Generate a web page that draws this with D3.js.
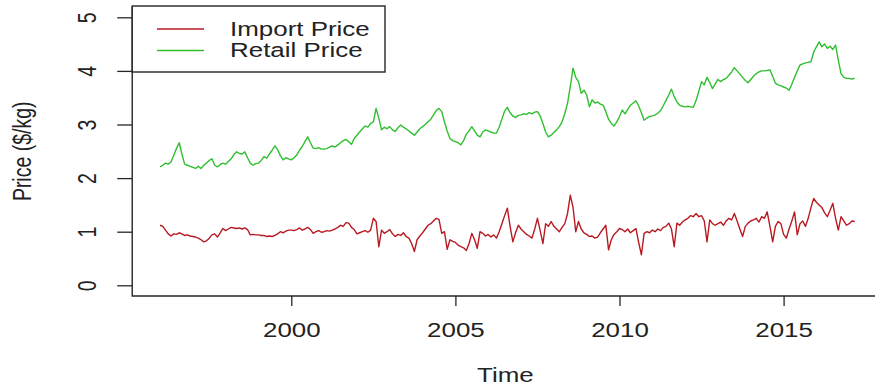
<!DOCTYPE html>
<html>
<head>
<meta charset="utf-8">
<script src="https://cdn.jsdelivr.net/npm/d3@7"></script>
<style>
  html, body { margin: 0; padding: 0; background: #fff; }
  svg { display: block; }
  text { font-family: "Liberation Sans", Arial, sans-serif; fill: #222; }
</style>
</head>
<body>
<svg id="chart" width="875" height="389"></svg>
<script>
// Monthly series, starting January 1996 (frequency 12)
const startYear = 1996;
const frequency = 12;

// Import price, $/kg
const importPrice = [
  1.12, 1.10, 1.03, 0.96, 0.92, 0.96, 0.95, 0.98, 0.96, 0.93, 0.94, 0.92, // 1996
  0.91, 0.90, 0.88, 0.85, 0.81, 0.83, 0.88, 0.94, 0.96, 0.90, 0.98, 1.06, // 1997
  1.02, 1.05, 1.08, 1.07, 1.06, 1.07, 1.05, 1.07, 1.04, 0.94, 0.95, 0.94, // 1998
  0.94, 0.93, 0.93, 0.91, 0.92, 0.91, 0.93, 0.96, 1.00, 0.98, 1.01, 1.03, // 1999
  1.03, 1.02, 1.04, 1.07, 1.03, 1.05, 1.08, 1.04, 0.97, 1.00, 1.02, 0.99, // 2000
  1.00, 1.02, 1.01, 1.03, 1.05, 1.08, 1.12, 1.10, 1.17, 1.16, 1.08, 1.04, // 2001
  0.96, 0.98, 1.00, 1.02, 0.99, 1.03, 1.25, 1.19, 0.72, 1.03, 0.97, 1.00, // 2002
  1.04, 0.96, 0.91, 0.95, 0.93, 0.98, 0.91, 0.88, 0.78, 0.63, 0.85, 0.92, // 2003
  0.98, 1.05, 1.12, 1.15, 1.20, 1.25, 1.23, 0.97, 1.00, 0.67, 0.85, 0.82, // 2004
  0.80, 0.75, 0.72, 0.70, 0.65, 0.78, 0.97, 0.85, 0.69, 1.00, 0.97, 0.92, // 2005
  0.95, 0.90, 0.94, 0.88, 1.00, 1.15, 1.30, 1.44, 1.10, 0.81, 0.98, 1.12, // 2006
  1.05, 1.00, 0.95, 0.92, 0.88, 1.05, 1.25, 1.02, 0.78, 1.15, 1.10, 1.19, // 2007
  1.10, 1.05, 1.00, 1.08, 1.15, 1.34, 1.68, 1.46, 1.00, 1.19, 1.05, 0.98, // 2008
  0.95, 0.91, 0.92, 0.88, 0.90, 0.98, 1.05, 1.12, 0.66, 0.85, 0.95, 1.00, // 2009
  1.06, 1.04, 1.00, 1.05, 0.98, 1.02, 1.06, 0.80, 0.57, 0.97, 1.00, 0.98, // 2010
  1.03, 1.00, 1.05, 1.02, 1.08, 1.10, 1.16, 1.05, 0.72, 1.16, 1.12, 1.18, // 2011
  1.22, 1.25, 1.30, 1.28, 1.34, 1.28, 1.30, 1.20, 0.81, 1.22, 1.15, 1.12, // 2012
  1.15, 1.18, 1.12, 1.20, 1.25, 1.22, 1.34, 1.20, 1.05, 0.91, 1.10, 1.16, // 2013
  1.20, 1.22, 1.25, 1.18, 1.28, 1.25, 1.37, 1.10, 0.81, 1.10, 1.19, 1.15, // 2014
  0.95, 0.88, 1.05, 1.20, 1.37, 0.94, 1.15, 1.20, 1.10, 1.25, 1.45, 1.62, // 2015
  1.55, 1.50, 1.45, 1.35, 1.28, 1.40, 1.53, 1.25, 1.03, 1.28, 1.20, 1.12, // 2016
  1.15, 1.20, 1.19                                                        // 2017
];

// Retail price, $/kg
const retailPrice = [
  2.21, 2.24, 2.28, 2.26, 2.30, 2.42, 2.55, 2.66, 2.45, 2.26, 2.24, 2.22, // 1996
  2.20, 2.18, 2.22, 2.18, 2.24, 2.28, 2.33, 2.36, 2.24, 2.21, 2.25, 2.28, // 1997
  2.26, 2.31, 2.36, 2.44, 2.49, 2.46, 2.45, 2.49, 2.38, 2.28, 2.24, 2.27, // 1998
  2.28, 2.33, 2.40, 2.37, 2.45, 2.52, 2.60, 2.53, 2.42, 2.34, 2.38, 2.36, // 1999
  2.34, 2.38, 2.43, 2.52, 2.59, 2.68, 2.77, 2.66, 2.56, 2.55, 2.57, 2.54, // 2000
  2.54, 2.55, 2.58, 2.60, 2.58, 2.62, 2.66, 2.70, 2.72, 2.68, 2.63, 2.74, // 2001
  2.80, 2.86, 2.92, 2.97, 2.95, 3.02, 3.05, 3.30, 3.12, 2.90, 2.95, 2.92, // 2002
  2.96, 2.90, 2.87, 2.94, 2.99, 2.95, 2.92, 2.88, 2.84, 2.80, 2.86, 2.92, // 2003
  2.96, 3.00, 3.05, 3.10, 3.18, 3.26, 3.30, 3.24, 3.05, 2.88, 2.74, 2.70, // 2004
  2.68, 2.66, 2.62, 2.70, 2.82, 2.88, 2.96, 2.88, 2.80, 2.77, 2.86, 2.90, // 2005
  2.88, 2.86, 2.84, 2.84, 2.95, 3.10, 3.25, 3.32, 3.22, 3.16, 3.13, 3.17, // 2006
  3.18, 3.20, 3.19, 3.22, 3.20, 3.23, 3.24, 3.16, 3.02, 2.86, 2.77, 2.80, // 2007
  2.85, 2.90, 2.96, 3.05, 3.20, 3.40, 3.70, 4.05, 3.88, 3.80, 3.58, 3.64, // 2008
  3.55, 3.33, 3.46, 3.40, 3.42, 3.38, 3.36, 3.24, 3.10, 3.02, 2.97, 3.05, // 2009
  3.15, 3.27, 3.20, 3.28, 3.36, 3.40, 3.44, 3.35, 3.22, 3.08, 3.12, 3.15, // 2010
  3.16, 3.18, 3.21, 3.26, 3.35, 3.45, 3.55, 3.66, 3.52, 3.42, 3.36, 3.34, // 2011
  3.33, 3.34, 3.33, 3.32, 3.45, 3.62, 3.80, 3.74, 3.88, 3.78, 3.67, 3.76, // 2012
  3.84, 3.80, 3.84, 3.86, 3.92, 3.98, 4.06, 4.00, 3.94, 3.88, 3.82, 3.78, // 2013
  3.84, 3.90, 3.95, 3.98, 4.00, 4.00, 4.01, 4.02, 3.90, 3.77, 3.74, 3.72, // 2014
  3.70, 3.68, 3.64, 3.75, 3.88, 4.00, 4.11, 4.13, 4.15, 4.16, 4.17, 4.35, // 2015
  4.45, 4.54, 4.45, 4.50, 4.42, 4.46, 4.40, 4.48, 4.20, 3.95, 3.88, 3.86, // 2016
  3.86, 3.85, 3.86                                                        // 2017
];

const seriesNames = ["Import Price", "Retail Price"];
const seriesColors = ["#b81a22", "#2fbf2f"];
const xTicks = [2000, 2005, 2010, 2015];
const yTicks = [0, 1, 2, 3, 4, 5];
const xTitle = "Time";
const yTitle = "Price ($/kg)";

const svg = d3.select("#chart");
const FS = 19.5;        // label font size
const SX = 1.33;        // horizontal stretch of the device

// time coordinate of each observation
const timeOf = i => startYear + i / frequency;
const tStart = timeOf(0);
const tEnd = timeOf(importPrice.length - 1);
const tPad = (tEnd - tStart) * 0.04;

// scales: calibrated on the axis tick positions
const x = d3.scaleLinear().domain([2000, 2015]).range([291.3, 783.6]);
const y = d3.scaleLinear().domain([0, 5]).range([285.3, 17.3]);

const plotLeft = x(tStart - tPad);
const plotRight = x(tEnd + tPad);
const plotBottom = y(-0.2);
const plotTop = y(5.2);

const axisColor = "#262626";

// plot frame: left and bottom sides
svg.append("path")
  .attr("d", `M${plotLeft},${plotTop}V${plotBottom}H${plotRight}`)
  .attr("fill", "none").attr("stroke", axisColor).attr("stroke-width", 1.4);

// y axis
const yAxis = d3.axisLeft(y).tickValues(yTicks).tickFormat(d3.format("d"))
  .tickSize(15).tickSizeOuter(0).tickPadding(0);
const gy = svg.append("g").attr("transform", `translate(${plotLeft},0)`).call(yAxis);
gy.select(".domain").remove();
gy.selectAll(".tick line").attr("stroke", axisColor).attr("stroke-width", 1.3);
gy.selectAll(".tick text")
  .attr("x", null)
  .attr("text-anchor", "middle")
  .attr("font-size", FS)
  .attr("fill", "#222")
  .attr("transform", `translate(${87 - plotLeft},0) scale(${SX},1) rotate(-90)`)
  .attr("dy", "0.35em")
  .style("font-family", "'Liberation Sans', Arial, sans-serif");

// x axis
const xAxis = d3.axisBottom(x).tickValues(xTicks).tickFormat(d3.format("d"))
  .tickSize(10).tickSizeOuter(0).tickPadding(0);
const gx = svg.append("g").attr("transform", `translate(0,${plotBottom})`).call(xAxis);
gx.select(".domain").remove();
gx.selectAll(".tick line").attr("stroke", axisColor).attr("stroke-width", 1.3);
gx.selectAll(".tick text")
  .attr("y", null)
  .attr("font-size", FS)
  .attr("fill", "#222")
  .attr("transform", `translate(0,${330 - plotBottom}) scale(${SX},1)`)
  .attr("dy", "0.35em")
  .style("font-family", "'Liberation Sans', Arial, sans-serif");

// axis titles
svg.append("text")
  .attr("transform", `translate(${(plotLeft + plotRight) / 2 - 2},375) scale(${SX},1)`)
  .attr("text-anchor", "middle").attr("dy", "0.35em")
  .attr("font-size", FS).text(xTitle);

svg.append("text")
  .attr("transform", `translate(22,${(plotTop + plotBottom) / 2}) scale(${SX},1) rotate(-90)`)
  .attr("text-anchor", "middle").attr("dy", "0.35em")
  .attr("font-size", FS).text(yTitle);

// series lines
const line = d3.line()
  .x((d, i) => x(timeOf(i)))
  .y(d => y(d));

[importPrice, retailPrice].forEach((vals, k) => {
  svg.append("path")
    .datum(vals)
    .attr("d", line)
    .attr("fill", "none")
    .attr("stroke", seriesColors[k])
    .attr("stroke-width", 1.4)
    .attr("stroke-linejoin", "round");
});

// legend, top-left inside the plot
const legend = svg.append("g");
legend.append("rect")
  .attr("x", plotLeft).attr("y", 6)
  .attr("width", 385 - plotLeft).attr("height", 66)
  .attr("fill", "#fff").attr("stroke", axisColor).attr("stroke-width", 1.4);

seriesNames.forEach((name, k) => {
  const ly = 29 + k * 21.5;
  legend.append("line")
    .attr("x1", 157).attr("x2", 204)
    .attr("y1", ly).attr("y2", ly)
    .attr("stroke", seriesColors[k]).attr("stroke-width", 1.3);
  legend.append("text")
    .attr("transform", `translate(230,${ly}) scale(${SX},1)`)
    .attr("dy", "0.35em")
    .attr("font-size", FS).text(name);
});
</script>
</body>
</html>
